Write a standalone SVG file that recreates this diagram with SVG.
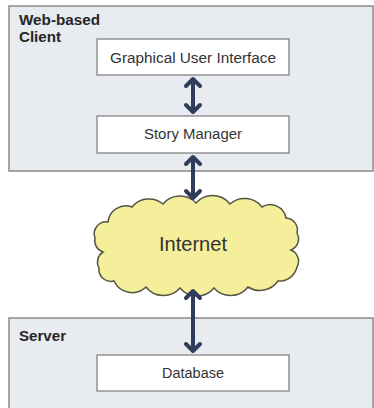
<svg xmlns="http://www.w3.org/2000/svg" width="374" height="408" viewBox="0 0 374 408">
<style>
.container{fill:#e8ebf0;stroke:#8a8a8a;stroke-width:1.5}
.node{fill:#ffffff;stroke:#7a7a7a;stroke-width:1.2}
.head{font-family:"Liberation Sans",Arial,sans-serif;font-size:14px;font-weight:bold;fill:#262626}
.lbl{font-family:"Liberation Sans",Arial,sans-serif;font-size:14px;fill:#333333;text-anchor:middle}
.conn{fill:none;stroke:#2f3d5b;stroke-width:4;stroke-linecap:round;stroke-linejoin:round}
</style>
<rect width="374" height="408" fill="#ffffff"/>
<g id="client">
<rect class="container" x="9" y="6" width="364" height="165"/>
<text class="head" x="19" y="25" textLength="81" lengthAdjust="spacingAndGlyphs">Web-based</text>
<text class="head" x="19" y="42" textLength="42" lengthAdjust="spacingAndGlyphs">Client</text>
</g>
<g id="server">
<rect class="container" x="9" y="318" width="364" height="92"/>
<text class="head" x="19" y="341" textLength="47" lengthAdjust="spacingAndGlyphs">Server</text>
</g>
<g id="gui">
<rect class="node" x="97" y="39" width="192" height="36"/>
<text class="lbl" x="193" y="63" textLength="166" lengthAdjust="spacingAndGlyphs">Graphical User Interface</text>
</g>
<g id="story-manager">
<rect class="node" x="97" y="116" width="192" height="37"/>
<text class="lbl" x="193" y="139" textLength="98" lengthAdjust="spacingAndGlyphs">Story Manager</text>
</g>
<g id="internet">
<path d="M108,222 A18,18 0 0 1 132,207 A22,22 0 0 1 163,204 A22,22 0 0 1 196,203 A22,22 0 0 1 230,204 A22,22 0 0 1 262,207 A16,16 0 0 1 286,218 A12,12 0 0 1 297,233 A12,12 0 0 1 291,250 A12,12 0 0 1 297,267 A18,18 0 0 1 278,281 A22,22 0 0 1 248,287 A22,22 0 0 1 214,288 A22,22 0 0 1 180,288 A22,22 0 0 1 146,287 A20,20 0 0 1 114,281 A12,12 0 0 1 99,268 A12,12 0 0 1 103,252 A12,12 0 0 1 95,238 A12,12 0 0 1 108,222 Z" fill="#f5ef9c" stroke="#555544" stroke-width="1.5"/>
<text class="lbl" x="193" y="251" style="font-size:21px" textLength="68" lengthAdjust="spacingAndGlyphs">Internet</text>
</g>
<g id="database">
<rect class="node" x="97" y="355" width="192" height="36"/>
<text class="lbl" x="193" y="378" textLength="62" lengthAdjust="spacingAndGlyphs">Database</text>
</g>
<g id="connectors">
<path class="conn" d="M193,79 V112 M186,86 L193,79 L200,86 M186,105 L193,112 L200,105"/>
<path class="conn" d="M193,157 V198 M186,164 L193,157 L200,164 M186,191 L193,198 L200,191"/>
<path class="conn" d="M193,291 V351 M186,298 L193,291 L200,298 M186,344 L193,351 L200,344"/>
</g>
</svg>
